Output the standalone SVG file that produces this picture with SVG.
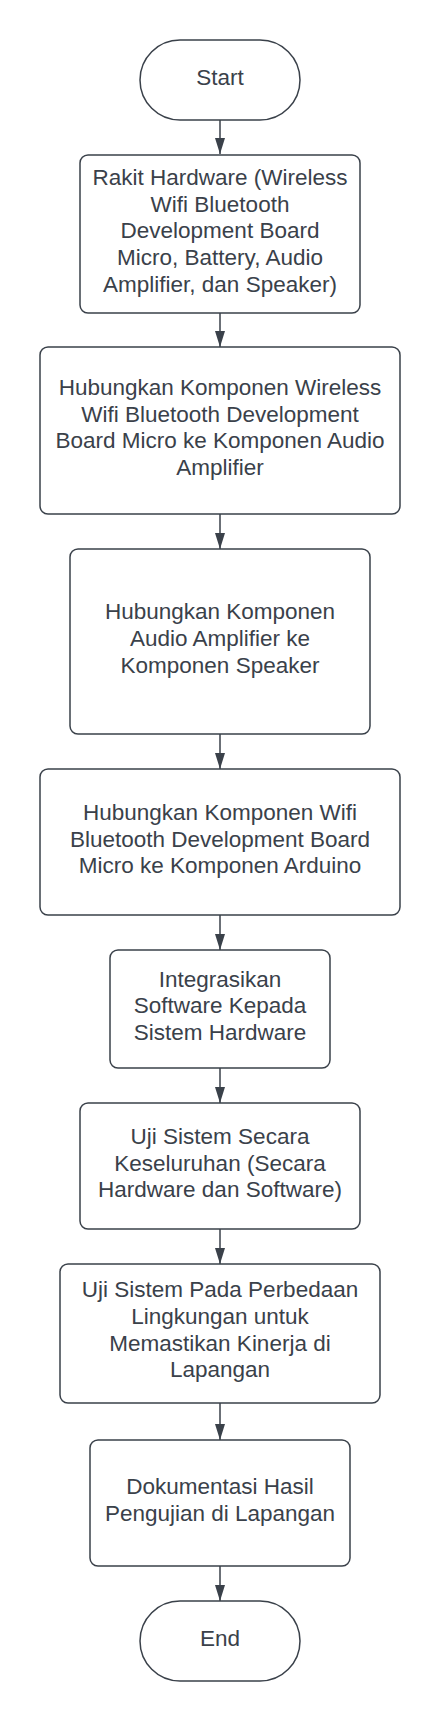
<svg xmlns="http://www.w3.org/2000/svg" width="440" height="1721" viewBox="0 0 440 1721">
<style>
.n{fill:#ffffff;stroke:#3a414a;stroke-width:1.5}
.t{font-family:"Liberation Sans",Arial,sans-serif;font-size:22.5px;fill:#3a414a;text-anchor:middle}
.c{stroke:#3a414a;stroke-width:1.5;fill:none}
</style>
<defs>
<marker id="ah" markerUnits="userSpaceOnUse" markerWidth="16" markerHeight="10" viewBox="0 0 16 10" refX="16" refY="5" orient="auto">
<path d="M0,0 L16,5 L0,10 Z" fill="#3a414a"/>
</marker>
</defs>
<rect width="440" height="1721" fill="#ffffff"/>
<g id="connectors">
<line class="c" x1="220" y1="120" x2="220" y2="154" marker-end="url(#ah)"/>
<line class="c" x1="220" y1="313" x2="220" y2="347" marker-end="url(#ah)"/>
<line class="c" x1="220" y1="514" x2="220" y2="549" marker-end="url(#ah)"/>
<line class="c" x1="220" y1="734" x2="220" y2="769" marker-end="url(#ah)"/>
<line class="c" x1="220" y1="915" x2="220" y2="950" marker-end="url(#ah)"/>
<line class="c" x1="220" y1="1068" x2="220" y2="1103" marker-end="url(#ah)"/>
<line class="c" x1="220" y1="1229" x2="220" y2="1264" marker-end="url(#ah)"/>
<line class="c" x1="220" y1="1403" x2="220" y2="1440" marker-end="url(#ah)"/>
<line class="c" x1="220" y1="1566" x2="220" y2="1601" marker-end="url(#ah)"/>
</g>
<g id="start">
<rect class="n" x="140" y="40" width="160" height="80" rx="40"/>
<text class="t" x="220" y="85">Start</text>
</g>
<g id="step1">
<rect class="n" x="80" y="155" width="280" height="158" rx="8"/>
<text class="t" x="220" y="185">Rakit Hardware (Wireless</text>
<text class="t" x="220" y="211.7">Wifi Bluetooth</text>
<text class="t" x="220" y="238.3">Development Board</text>
<text class="t" x="220" y="265">Micro, Battery, Audio</text>
<text class="t" x="220" y="291.7">Amplifier, dan Speaker)</text>
</g>
<g id="step2">
<rect class="n" x="40" y="347" width="360" height="167" rx="8"/>
<text class="t" x="220" y="395">Hubungkan Komponen Wireless</text>
<text class="t" x="220" y="421.7">Wifi Bluetooth Development</text>
<text class="t" x="220" y="448.3">Board Micro ke Komponen Audio</text>
<text class="t" x="220" y="475">Amplifier</text>
</g>
<g id="step3">
<rect class="n" x="70" y="549" width="300" height="185" rx="8"/>
<text class="t" x="220" y="619.3">Hubungkan Komponen</text>
<text class="t" x="220" y="646">Audio Amplifier ke</text>
<text class="t" x="220" y="672.7">Komponen Speaker</text>
</g>
<g id="step4">
<rect class="n" x="40" y="769" width="360" height="146" rx="8"/>
<text class="t" x="220" y="820">Hubungkan Komponen Wifi</text>
<text class="t" x="220" y="846.7">Bluetooth Development Board</text>
<text class="t" x="220" y="873.3">Micro ke Komponen Arduino</text>
</g>
<g id="step5">
<rect class="n" x="110" y="950" width="220" height="118" rx="8"/>
<text class="t" x="220" y="986.7">Integrasikan</text>
<text class="t" x="220" y="1013.3">Software Kepada</text>
<text class="t" x="220" y="1040">Sistem Hardware</text>
</g>
<g id="step6">
<rect class="n" x="80" y="1103" width="280" height="126" rx="8"/>
<text class="t" x="220" y="1144">Uji Sistem Secara</text>
<text class="t" x="220" y="1170.7">Keseluruhan (Secara</text>
<text class="t" x="220" y="1197.3">Hardware dan Software)</text>
</g>
<g id="step7">
<rect class="n" x="60" y="1264" width="320" height="139" rx="8"/>
<text class="t" x="220" y="1297.3">Uji Sistem Pada Perbedaan</text>
<text class="t" x="220" y="1324">Lingkungan untuk</text>
<text class="t" x="220" y="1350.7">Memastikan Kinerja di</text>
<text class="t" x="220" y="1377.3">Lapangan</text>
</g>
<g id="step8">
<rect class="n" x="90" y="1440" width="260" height="126" rx="8"/>
<text class="t" x="220" y="1494.3">Dokumentasi Hasil</text>
<text class="t" x="220" y="1521">Pengujian di Lapangan</text>
</g>
<g id="end">
<rect class="n" x="140" y="1601" width="160" height="80" rx="40"/>
<text class="t" x="220" y="1646">End</text>
</g>
</svg>
